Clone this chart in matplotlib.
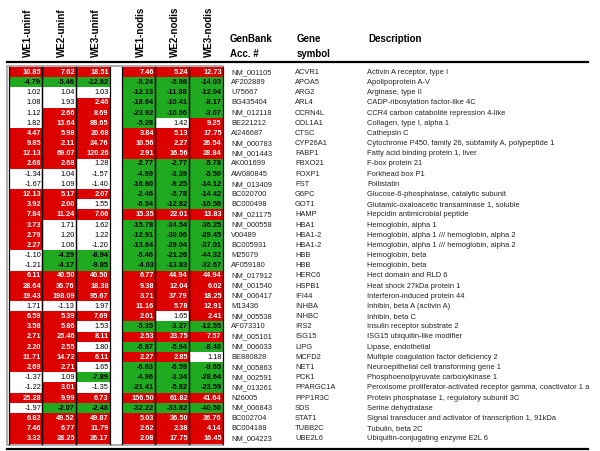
import matplotlib
matplotlib.use("Agg")
import matplotlib.pyplot as plt
from matplotlib.patches import Rectangle

plt.rcParams['font.family'] = ['Liberation Sans', 'DejaVu Sans']

col_labels = ["WE1-uninf", "WE2-uninf", "WE3-uninf", "WE1-nodis", "WE2-nodis", "WE3-nodis"]

genbank = ["NM_001105", "AF202889", "U75667", "BG435404", "NM_012118", "BE221212", "AI246687",
           "NM_000783", "NM_001443", "AK001699", "AW080845", "NM_013409", "BC020700", "BC000498",
           "NM_021175", "NM_000558", "V00489", "BC005931", "M25079", "AF059180", "NM_017912",
           "NM_001540", "NM_006417", "M13436", "NM_005538", "AF073310", "NM_005101", "NM_006033",
           "BE880828", "NM_005863", "NM_002591", "NM_013261", "N26005", "NM_006843", "BC002704",
           "BC004188", "NM_004223"]

symbols = ["ACVR1", "APOA5", "ARG2", "ARL4", "CCRN4L", "COL1A1", "CTSC", "CYP26A1", "FABP1",
           "FBXO21", "FOXP1", "FST", "G6PC", "GOT1", "HAMP", "HBA1", "HBA1-2", "HBA1-2", "HBB",
           "HBB", "HERC6", "HSPB1", "IFI44", "INHBA", "INHBC", "IRS2", "ISG15", "LIPG", "MCFD2",
           "NET1", "PCK1", "PPARGC1A", "PPP1R3C", "SDS", "STAT1", "TUBB2C", "UBE2L6"]

descriptions = [
    "Activin A receptor, type I",
    "Apolipoprotein A-V",
    "Arginase, type II",
    "CADP-ribosylation factor-like 4C",
    "CCR4 carbon catabolite repression 4-like",
    "Collagen, type I, alpha 1",
    "Cathepsin C",
    "Cytochrome P450, family 26, subfamily A, polypeptide 1",
    "Fatty acid binding protein 1, liver",
    "F-box protein 21",
    "Forkhead box P1",
    "Follistatin",
    "Glucose-6-phosphatase, catalytic subunit",
    "Glutamic-oxaloacetic transaminase 1, soluble",
    "Hepcidin antimicrobial peptide",
    "Hemoglobin, alpha 1",
    "Hemoglobin, alpha 1 /// hemoglobin, alpha 2",
    "Hemoglobin, alpha 1 /// hemoglobin, alpha 2",
    "Hemoglobin, beta",
    "Hemoglobin, beta",
    "Hect domain and RLD 6",
    "Heat shock 27kDa protein 1",
    "Interferon-induced protein 44",
    "Inhibin, beta A (activin A)",
    "Inhibin, beta C",
    "Insulin receptor substrate 2",
    "ISG15 ubiquitin-like modifier",
    "Lipase, endothelial",
    "Multiple coagulation factor deficiency 2",
    "Neuroepithelial cell transforming gene 1",
    "Phosphoenolpyruvate carboxykinase 1",
    "Peroxisome proliferator-activated receptor gamma, coactivator 1 a",
    "Protein phosphatase 1, regulatory subunit 3C",
    "Serine dehydratase",
    "Signal transducer and activator of transcription 1, 91kDa",
    "Tubulin, beta 2C",
    "Ubiquitin-conjugating enzyme E2L 6",
]

we1_uninf = [10.85, -4.79, 1.02, 1.08, 1.12, 1.82, 4.47, 9.85, 12.13, 2.68, -1.34, -1.67, 12.13,
             3.92, 7.84, 3.73, 2.79, 2.27, -1.10, -1.21, 6.11, 28.64, 19.43, 1.71, 6.59, 3.58,
             2.71, 2.20, 11.71, 2.69, -1.37, -1.22, 25.28, -1.97, 6.82, 7.46, 3.32]
we2_uninf = [7.62, -5.46, 1.04, 1.93, 2.66, 13.64, 5.98, 2.11, 69.07, 2.68, 1.04, 1.09, 5.17,
             2.00, 11.24, 1.71, 1.20, 1.06, -4.29, -4.17, 40.50, 36.76, 198.09, -1.13, 5.39,
             5.86, 25.46, 2.55, 14.72, 2.71, 1.09, 3.01, 9.99, -2.07, 49.52, 6.77, 28.25]
we3_uninf = [18.51, -12.82, 1.03, 2.46, 8.69, 88.65, 20.68, 24.76, 120.26, 1.28, -1.57, -1.40,
             2.07, 1.55, 7.06, 1.62, 1.22, -1.20, -8.94, -9.85, 40.50, 18.38, 95.67, 1.97, 7.69,
             1.53, 8.11, 1.80, 6.11, 1.65, -7.89, -1.35, 6.73, -2.48, 49.87, 11.79, 26.17]
we1_nodis = [7.46, -5.24, -12.13, -18.64, -23.92, -5.28, 3.84, 10.56, 2.91, -2.77, -4.69, -16.80,
             -2.46, -6.54, 15.35, -15.78, -12.91, -13.64, -5.46, -4.03, 6.77, 9.38, 3.71, 11.16,
             2.01, -5.35, 2.53, -6.87, 2.27, -6.63, -4.96, -21.41, 156.50, -32.22, 5.03, 2.62, 2.08]
we2_nodis = [5.24, -5.98, -11.88, -10.41, -10.06, 1.42, 5.13, 2.27, 16.56, -2.77, -3.39, -9.25,
             -5.78, -12.82, 22.01, -34.54, -30.06, -29.04, -21.26, -13.83, 44.94, 12.04, 37.79,
             5.78, 1.65, -3.27, 23.75, -5.94, 2.85, -6.59, -3.34, -5.82, 61.82, -33.82, 36.50,
             2.38, 17.75]
we3_nodis = [12.73, -14.03, -12.04, -8.17, -3.07, 9.25, 17.75, 26.54, 28.84, -5.78, -5.50, -14.12,
             -14.42, -16.56, 13.83, -36.25, -29.45, -37.01, -44.32, -32.67, 44.94, 6.02, 18.25,
             12.91, 2.41, -12.55, 7.57, -8.40, 1.18, -9.65, -28.64, -23.59, 41.64, -40.50, 36.76,
             4.14, 16.45]

series = [we1_uninf, we2_uninf, we3_uninf, we1_nodis, we2_nodis, we3_nodis]

RED = "#DD0000"
GREEN = "#1FAA1F"

fig = plt.figure(figsize=(6.0, 4.51), dpi=100)
ax = fig.add_axes([0, 0, 1, 1])
ax.set_xlim(0, 600)
ax.set_ylim(451, 0)
ax.axis("off")

n = len(symbols)
top = 67.0
bottom = 443.5
rh = (bottom - top) / n
cw = 33.8
lefts = [8.5 + k * cw for k in range(3)] + [121.5 + k * cw for k in range(3)]

# gray outer frame
ax.add_patch(Rectangle((7, top - 1.5), 216, bottom - top + 3, facecolor="white",
                       edgecolor="#A0A0A0", lw=1.2, zorder=1))

fs = 5.3
for c, vals in enumerate(series):
    x0 = lefts[c]
    for i, v in enumerate(vals):
        y0 = top + i * rh
        if v >= 2:
            fc, tc, fw = RED, "white", "bold"
        elif v <= -2:
            fc, tc, fw = GREEN, "black", "bold"
        else:
            fc, tc, fw = "white", "black", "normal"
        ax.add_patch(Rectangle((x0, y0), cw, rh, facecolor=fc, edgecolor="none", zorder=2))
        ax.text(x0 + cw - 1.2, y0 + rh / 2 + 0.3, f"{v:.2f}", ha="right", va="center",
                fontsize=fs, color=tc, fontweight=fw, zorder=4)
    # vertical black lines
    for xx in (x0, x0 + cw):
        ax.plot([xx, xx], [top, bottom], color="black", lw=0.9, zorder=3)

# header labels
for c, lab in enumerate(col_labels):
    ax.text(lefts[c] + cw / 2 + 2.5, 57, lab, rotation=90, ha="center", va="bottom",
            fontsize=7, fontweight="bold")

hfs = 7
ax.text(230, 39, "GenBank", ha="left", va="center", fontsize=hfs, fontweight="bold")
ax.text(230, 54, "Acc. #", ha="left", va="center", fontsize=hfs, fontweight="bold")
ax.text(297, 39, "Gene", ha="left", va="center", fontsize=hfs, fontweight="bold")
ax.text(297, 54, "symbol", ha="left", va="center", fontsize=hfs, fontweight="bold")
ax.text(368, 39, "Description", ha="left", va="center", fontsize=hfs, fontweight="bold")

# horizontal rules
ax.plot([7, 588], [61.5, 61.5], color="black", lw=1.6, zorder=3)
ax.plot([7, 588], [448.5, 448.5], color="black", lw=1.6, zorder=3)
ax.plot([7, 588], [450.8, 450.8], color="black", lw=0.6, zorder=3)

tfs = 5.4
for i in range(n):
    yc = top + i * rh + rh / 2 + 0.3
    ax.text(231, yc, genbank[i], ha="left", va="center", fontsize=tfs, color="#222222")
    ax.text(295, yc, symbols[i], ha="left", va="center", fontsize=tfs, color="#222222")
    ax.text(367, yc, descriptions[i], ha="left", va="center", fontsize=tfs, color="#222222")

fig.savefig("out.png", dpi=100)
